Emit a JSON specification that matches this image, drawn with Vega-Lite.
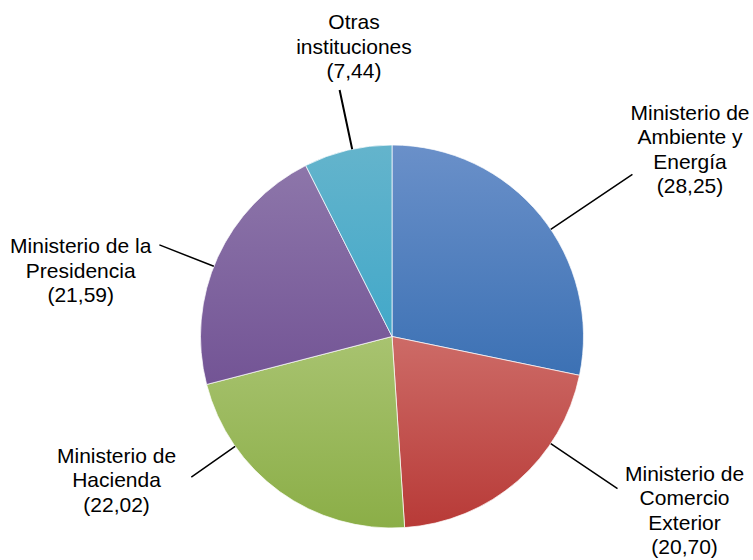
{
  "$schema": "https://vega.github.io/schema/vega-lite/v6.json",
  "width": 722,
  "height": 447,
  "autosize": "none",
  "padding": {"left": 31, "top": 113, "right": 0, "bottom": 0},
  "background": "#ffffff",
  "config": {"view": {"stroke": null}},
  "data": {
    "values": [
      {"idx": 1, "cat": "amb", "value": 28.25, "label": "Ministerio de\nAmbiente y\nEnergía\n(28,25)"},
      {"idx": 2, "cat": "com", "value": 20.70, "label": "Ministerio de\nComercio\nExterior\n(20,70)"},
      {"idx": 3, "cat": "hac", "value": 22.02, "label": "Ministerio de\nHacienda\n(22,02)"},
      {"idx": 4, "cat": "pre", "value": 21.59, "label": "Ministerio de la\nPresidencia\n(21,59)"},
      {"idx": 5, "cat": "otr", "value": 7.44, "label": "Otras\ninstituciones\n(7,44)"}
    ]
  },
  "transform": [
    {"stack": "value", "groupby": [], "as": ["v0", "v1"], "sort": [{"field": "idx", "order": "ascending"}]}
  ],
  "layer": [
    {
      "mark": {"type": "arc", "outerRadius": 191.5, "stroke": "#ffffff", "strokeWidth": 1, "strokeOpacity": 0.7},
      "encoding": {
        "theta": {"field": "v0", "type": "quantitative", "scale": {"domain": [0, 100]}},
        "theta2": {"field": "v1"},
        "fill": {
          "condition": [
            {"test": "datum.cat === 'amb'", "value": {"gradient": "linear", "x1": 0, "y1": 0, "x2": 0, "y2": 1, "stops": [{"offset": 0, "color": "#6a90c9"}, {"offset": 1, "color": "#3c71b4"}]}},
            {"test": "datum.cat === 'com'", "value": {"gradient": "linear", "x1": 0, "y1": 0, "x2": 0, "y2": 1, "stops": [{"offset": 0, "color": "#cd6b67"}, {"offset": 1, "color": "#b83a37"}]}},
            {"test": "datum.cat === 'hac'", "value": {"gradient": "linear", "x1": 0, "y1": 0, "x2": 0, "y2": 1, "stops": [{"offset": 0, "color": "#a8c370"}, {"offset": 1, "color": "#8bae47"}]}},
            {"test": "datum.cat === 'pre'", "value": {"gradient": "linear", "x1": 0, "y1": 0, "x2": 0, "y2": 1, "stops": [{"offset": 0, "color": "#8d76aa"}, {"offset": 1, "color": "#735495"}]}},
            {"test": "datum.cat === 'otr'", "value": {"gradient": "linear", "x1": 0, "y1": 0, "x2": 0, "y2": 1, "stops": [{"offset": 0, "color": "#64b4cc"}, {"offset": 1, "color": "#42a8c9"}]}}
          ],
          "value": "#999999"
        }
      }
    },
    {
      "transform": [{"filter": "datum.cat === 'amb'"}],
      "layer": [
        {"mark": {"type": "arc", "radius": 290, "radius2": 191.5, "thetaOffset": 0.97738, "theta2Offset": 0.97738, "stroke": "#000000", "strokeWidth": 1.5, "fillOpacity": 0},
         "encoding": {"theta": {"field": "v0", "type": "quantitative", "scale": {"domain": [0, 100]}}, "theta2": {"field": "v0"}}},
        {"mark": {"type": "text", "radius": 351.4, "thetaOffset": 1.01229, "dy": -36.75, "align": "center", "baseline": "middle", "lineBreak": "\n", "lineHeight": 24.5, "fontSize": 21, "font": "Liberation Sans", "color": "#000000"},
         "encoding": {"theta": {"field": "v0", "type": "quantitative", "scale": {"domain": [0, 100]}}, "text": {"field": "label"}}}
      ]
    },
    {
      "transform": [{"filter": "datum.cat === 'com'"}],
      "layer": [
        {"mark": {"type": "arc", "radius": 272, "radius2": 191.5, "thetaOffset": 0.38921, "theta2Offset": 0.38921, "stroke": "#000000", "strokeWidth": 1.5, "fillOpacity": 0},
         "encoding": {"theta": {"field": "v0", "type": "quantitative", "scale": {"domain": [0, 100]}}, "theta2": {"field": "v0"}}},
        {"mark": {"type": "text", "radius": 341.0, "thetaOffset": 0.33545, "dy": -36.75, "align": "center", "baseline": "middle", "lineBreak": "\n", "lineHeight": 24.5, "fontSize": 21, "font": "Liberation Sans", "color": "#000000"},
         "encoding": {"theta": {"field": "v0", "type": "quantitative", "scale": {"domain": [0, 100]}}, "text": {"field": "label"}}}
      ]
    },
    {
      "transform": [{"filter": "datum.cat === 'hac'"}],
      "layer": [
        {"mark": {"type": "arc", "radius": 245, "radius2": 191.5, "thetaOffset": 1.02591, "theta2Offset": 1.02591, "stroke": "#000000", "strokeWidth": 1.5, "fillOpacity": 0},
         "encoding": {"theta": {"field": "v0", "type": "quantitative", "scale": {"domain": [0, 100]}}, "theta2": {"field": "v0"}}},
        {"mark": {"type": "text", "radius": 311.2, "thetaOffset": 1.15279, "dy": -24.5, "align": "center", "baseline": "middle", "lineBreak": "\n", "lineHeight": 24.5, "fontSize": 21, "font": "Liberation Sans", "color": "#000000"},
         "encoding": {"theta": {"field": "v0", "type": "quantitative", "scale": {"domain": [0, 100]}}, "text": {"field": "label"}}}
      ]
    },
    {
      "transform": [{"filter": "datum.cat === 'pre'"}],
      "layer": [
        {"mark": {"type": "arc", "radius": 250, "radius2": 191.5, "thetaOffset": 0.62846, "theta2Offset": 0.62846, "stroke": "#000000", "strokeWidth": 1.5, "fillOpacity": 0},
         "encoding": {"theta": {"field": "v0", "type": "quantitative", "scale": {"domain": [0, 100]}}, "theta2": {"field": "v0"}}},
        {"mark": {"type": "text", "radius": 317.9, "thetaOffset": 0.45759, "dy": -24.5, "align": "center", "baseline": "middle", "lineBreak": "\n", "lineHeight": 24.5, "fontSize": 21, "font": "Liberation Sans", "color": "#000000"},
         "encoding": {"theta": {"field": "v0", "type": "quantitative", "scale": {"domain": [0, 100]}}, "text": {"field": "label"}}}
      ]
    },
    {
      "transform": [{"filter": "datum.cat === 'otr'"}],
      "layer": [
        {"mark": {"type": "arc", "radius": 252, "radius2": 191.5, "thetaOffset": 0.25803, "theta2Offset": 0.25803, "stroke": "#000000", "strokeWidth": 2, "fillOpacity": 0},
         "encoding": {"theta": {"field": "v0", "type": "quantitative", "scale": {"domain": [0, 100]}}, "theta2": {"field": "v0"}}},
        {"mark": {"type": "text", "radius": 291.3, "thetaOffset": 0.33657, "dy": -24.5, "align": "center", "baseline": "middle", "lineBreak": "\n", "lineHeight": 24.5, "fontSize": 21, "font": "Liberation Sans", "color": "#000000"},
         "encoding": {"theta": {"field": "v0", "type": "quantitative", "scale": {"domain": [0, 100]}}, "text": {"field": "label"}}}
      ]
    }
  ]
}
